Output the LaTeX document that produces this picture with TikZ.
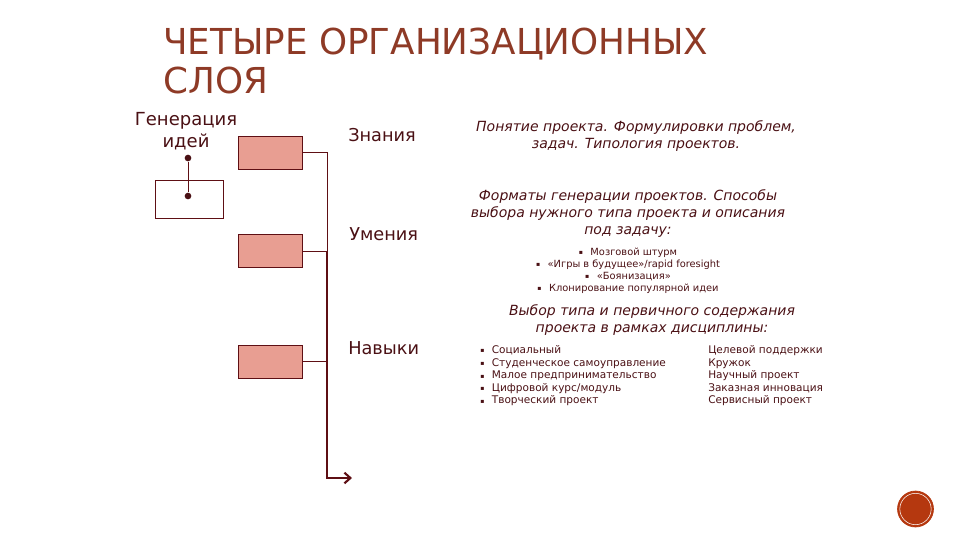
\documentclass[tikz,border=0pt]{standalone}
\usepackage{fontspec}
\setmainfont{DejaVu Sans}
\usepackage{xcolor}
\usetikzlibrary{arrows.meta}
\definecolor{slidetitle}{HTML}{8E3A26}
\definecolor{slidetext}{HTML}{4A1014}
\definecolor{slideline}{HTML}{5E0F14}
\definecolor{slidefill}{HTML}{E89E92}
\definecolor{slidedisc}{HTML}{B5380F}
\newcommand{\smallmark}{\raisebox{0.6pt}{\fontsize{4.6}{4.6}\selectfont ▪}\hspace{5.6pt}}
\tikzset{
  colorbox/.style={draw=slideline,fill=slidefill,line width=0.5pt,minimum width=48pt,minimum height=25pt,inner sep=0pt},
  levellabel/.style={text=slidetext,font=\fontsize{13.3}{15}\selectfont,anchor=west,inner sep=0pt},
  leadtext/.style={text=slidetext,font=\fontsize{10.5}{12.75}\selectfont\itshape,align=center,inner sep=0pt},
  smalltext/.style={text=slidetext,font=\fontsize{7.9}{9.4}\selectfont,align=left,inner sep=0pt},
  bullettext/.style={text=slidetext,font=\fontsize{7.4}{9}\selectfont,align=center,inner sep=0pt},
  enddot/.style={circle,fill=slidetext,minimum size=5pt,inner sep=0pt},
}
\begin{document}
\begin{tikzpicture}[x=0.75pt,y=-0.75pt]
  \useasboundingbox (0,0) rectangle (960,540);
  % title
  \node[anchor=north west,text=slidetitle,font=\fontsize{26.8}{29.5}\selectfont,align=left,inner sep=0pt] (title) at (163,27.5) {ЧЕТЫРЕ ОРГАНИЗАЦИОННЫХ\\СЛОЯ};
  % left part
  \node[text=slidetext,font=\fontsize{13.5}{16.5}\selectfont,align=center,inner sep=0pt] (idea) at (186,131) {Генерация\\идей};
  \node[draw=slideline,line width=0.5pt,minimum width=51pt,minimum height=28.5pt,inner sep=0pt] (ideabox) at (189,199) {};
  \node[enddot] (dottop) at (188,158) {};
  \node[enddot] (dotbottom) at (188,196) {};
  \draw[slideline,line width=0.75pt] (dottop) -- (dotbottom);
  \node[colorbox] (know) at (270,152.5) {};
  \node[colorbox] (skill) at (270,251) {};
  \node[colorbox] (habit) at (270,361.5) {};
  % trunk with arrow
  \coordinate (trunktop) at (327,152.5);
  \coordinate (trunkmid) at (327,251);
  \coordinate (trunkhabit) at (327,361.5);
  \coordinate (trunkend) at (327,478);
  \coordinate (arrowend) at (352,478);
  \draw[slideline,line width=0.6pt] (know.east) -- (trunktop) -- (trunkmid);
  \draw[slideline,line width=0.6pt] (skill.east) -- (trunkmid);
  \draw[slideline,line width=0.6pt] (habit.east) -- (trunkhabit);
  \draw[slideline,line width=1.6pt,-{Straight Barb[length=4.5pt,width=8pt]}] (trunkmid) -- (trunkend) -- (arrowend);
  % labels
  \node[levellabel] (lknow) at (348,135) {Знания};
  \node[levellabel] (lskill) at (349,234) {Умения};
  \node[levellabel] (lhabit) at (348,348) {Навыки};
  % right part
  \node[leadtext] (t1) at (636,136) {Понятие проекта. Формулировки проблем,\\задач. Типология проектов.};
  \node[leadtext] (t2) at (628,213.5) {Форматы генерации проектов. Способы\\выбора нужного типа проекта и описания\\под задачу:};
  \node[bullettext] (t3) at (628,270.5) {\smallmark Мозговой штурм\\\smallmark «Игры в будущее»/rapid foresight\\\smallmark «Боянизация»\\\smallmark Клонирование популярной идеи};
  \node[leadtext] (t4) at (652,320) {Выбор типа и первичного содержания\\проекта в рамках дисциплины:};
  \node[smalltext,anchor=north west] (t5) at (480,345.5) {\smallmark Социальный\\\smallmark Студенческое самоуправление\\\smallmark Малое предпринимательство\\\smallmark Цифровой курс/модуль\\\smallmark Творческий проект};
  \node[smalltext,anchor=north west] (t6) at (708,345.5) {Целевой поддержки\\Кружок\\Научный проект\\Заказная инновация\\Сервисный проект};
  % page badge
  \node[circle,fill=slidedisc,draw=slidedisc,line width=0.5pt,minimum size=27pt,inner sep=0pt] (badge) at (915.5,509) {};
  \node[circle,draw=white,line width=0.4pt,minimum size=23.5pt,inner sep=0pt] (badgering) at (915.5,509) {};
\end{tikzpicture}
\end{document}
